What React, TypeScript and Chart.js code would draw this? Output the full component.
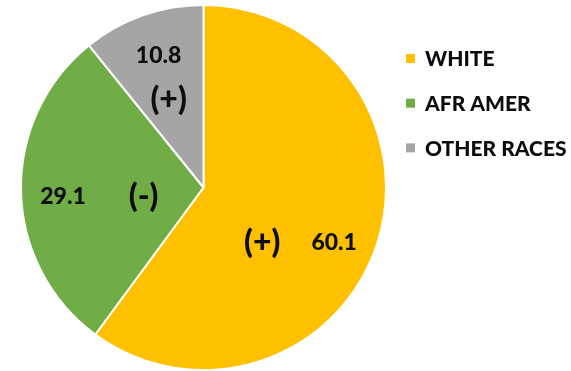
import React, { useEffect, useRef } from "react";
import { Chart, registerables } from "chart.js";

Chart.register(...registerables);

const categories = ["WHITE", "AFR AMER", "OTHER RACES"];
const values = [60.1, 29.1, 10.8];
const signs = ["(+)", "(-)", "(+)"];
const colors = ["#FFC000", "#70AD47", "#A5A5A5"];

// label placement as fractions of the radius (x, y) relative to pie center
const valuePos = [
  [0.716, 0.301],
  [-0.77, 0.05],
  [-0.246, -0.725],
];
const signPos = [
  [0.322, 0.301],
  [-0.328, 0.049],
  [-0.191, -0.481],
];

const labelPlugin = {
  id: "customLabels",
  afterDraw(chart: any) {
    const ctx = chart.ctx;
    const meta = chart.getDatasetMeta(0);
    const arc = meta.data[0];
    const cx = arc.x;
    const cy = arc.y;
    const r = arc.outerRadius;
    ctx.save();
    ctx.fillStyle = "#0d0d0d";
    ctx.textAlign = "center";
    ctx.textBaseline = "middle";
    values.forEach((v, i) => {
      ctx.font = "900 23px Lato, 'Open Sans', sans-serif";
      ctx.fillText(v.toFixed(1), cx + valuePos[i][0] * r, cy + valuePos[i][1] * r);
      ctx.font = "900 32px Lato, 'Open Sans', sans-serif";
      ctx.fillText(signs[i], cx + signPos[i][0] * r, cy + signPos[i][1] * r);
    });
    // legend
    const lx = 406;
    const ly0 = 58.5;
    const gap = 44.7;
    categories.forEach((c, i) => {
      const y = ly0 + i * gap;
      ctx.fillStyle = colors[i];
      ctx.fillRect(lx, y - 4.5, 9, 9);
      ctx.fillStyle = "#0d0d0d";
      ctx.textAlign = "left";
      ctx.font = "900 21px Lato, 'Open Sans', sans-serif";
      ctx.fillText(c, 425, y + 1);
    });
    ctx.restore();
  },
};

export default function App() {
  const ref = useRef<HTMLCanvasElement>(null);
  useEffect(() => {
    if (!ref.current) return;
    const chart = new Chart(ref.current, {
      type: "pie",
      data: {
        labels: categories,
        datasets: [
          {
            data: values,
            backgroundColor: colors,
            borderColor: "#ffffff",
            borderWidth: 2,
          },
        ],
      },
      options: {
        responsive: false,
        animation: false,
        layout: { padding: { left: 19, right: 183, top: 4, bottom: -2 } },
        plugins: {
          legend: { display: false },
          tooltip: { enabled: false },
        },
      },
      plugins: [labelPlugin],
    });
    return () => chart.destroy();
  }, []);
  return (
    <div style={{ position: "fixed", left: 0, top: 0, width: 571, height: 371, background: "#fff" }}>
      <canvas ref={ref} width={571} height={371} />
    </div>
  );
}
